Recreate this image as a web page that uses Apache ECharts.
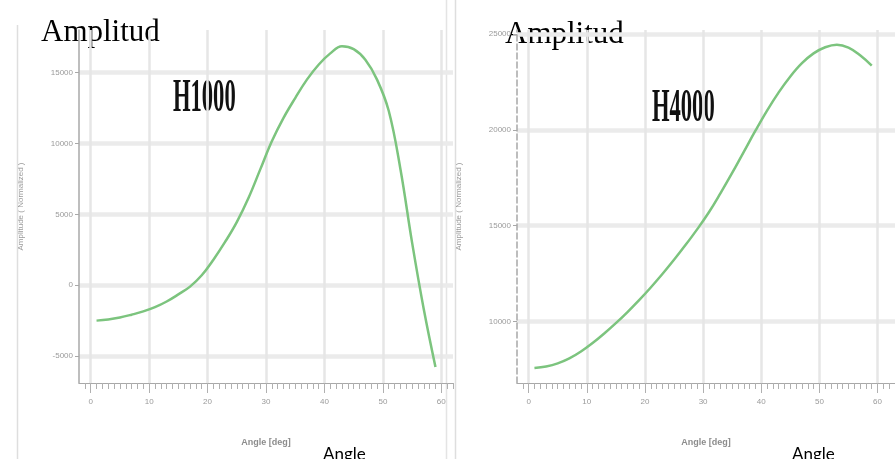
<!DOCTYPE html>
<html><head><meta charset="utf-8">
<script src="https://cdn.jsdelivr.net/npm/echarts@6/dist/echarts.min.js"></script>
<style>html,body{margin:0;padding:0;background:#fff}#c{width:895px;height:459px}</style>
</head><body><div id="c"></div>
<script>
const angles1 = [1,3,5,7,9,11,13,15,17,19,21,23,25,27,29,31,33,35,37,39,41,43,45,47,49,51,53,55,57,59];
const h1000 = [-2500,-2420,-2280,-2080,-1850,-1550,-1150,-650,-100,700,1800,3050,4450,6150,8150,10150,11800,13200,14500,15550,16350,16850,16650,15900,14500,12300,8200,3000,-1700,-5770];
const angles2 = [1,3,5,7,9,11,13,15,17,19,21,23,25,27,29,31,33,35,37,39,41,43,45,47,49,51,53,55,57,59];
const h4000 = [7580,7660,7820,8080,8440,8880,9380,9920,10500,11120,11780,12480,13220,14000,14820,15700,16700,17750,18850,19950,21000,21950,22780,23470,23980,24300,24430,24280,23880,23340];
const xLabelTicks = [0,10,20,30,40,50,60];
const yTicks1 = [-5000,0,5000,10000,15000];
const yTicks2 = [10000,15000,20000,25000];
const minorTicks = [];
for (let i = -1; i <= 63; i++) minorTicks.push(i);

const lineColor = '#7cc47e';
const axisGray = '#a8a8a8';
const labelStyle = {color:'#9a9a9a', fontSize:8, fontFamily:'Liberation Sans Narrow, Liberation Sans, sans-serif'};

function xMain(gi, max){
  return {type:'value', gridIndex:gi, min:-2, max:max, position:'bottom',
    name:'Angle [deg]', nameLocation:'middle', nameGap:55,
    nameTextStyle:{color:'#8c8c8c', fontSize:9, fontWeight:'bold', fontFamily:'Liberation Sans Narrow, sans-serif'},
    axisLine:{show:true, onZero:false, lineStyle:{color:axisGray, width:1}},
    axisTick:{show:true, customValues:minorTicks, length:6, lineStyle:{color:'#b0b0b0', width:1}},
    axisLabel:{show:true, customValues:xLabelTicks, margin:15, ...labelStyle},
    splitLine:{show:false}};
}
function xMajor(gi, max){
  return {type:'value', gridIndex:gi, min:-2, max:max, position:'bottom',
    axisLine:{show:false, onZero:false},
    axisTick:{show:true, customValues:xLabelTicks, length:10, lineStyle:{color:'#b0b0b0', width:1}},
    axisLabel:{show:false},
    splitLine:{show:true, lineStyle:{color:'#e6e6e6', width:2.5}}};
}
function yAx(gi, min, max, ticks, dashed){
  return {type:'value', gridIndex:gi, min:min, max:max,
    name:'Amplitude ( Normalized )', nameLocation:'middle', nameGap:54, nameRotate:90,
    nameTextStyle:{color:'#9a9a9a', fontSize:8, fontFamily:'Liberation Sans Narrow, sans-serif'},
    axisLine:{show:true, onZero:false, lineStyle:{color:axisGray, width:1.5, type: dashed?'dashed':'solid'}},
    axisTick:{show:true, customValues:ticks, length:4, lineStyle:{color:axisGray}},
    axisLabel:{show:true, customValues:ticks, margin:6, ...labelStyle, fontSize:8, formatter:v=>String(v)},
    splitLine:{show:true, lineStyle:{color:'#ebebeb', width:4.5}}};
}

const chart = echarts.init(document.getElementById('c'), null, {renderer:'canvas'});
chart.setOption({
  backgroundColor:'#ffffff',
  animation:false,
  grid:[
    {left:79, right:442, top:30, bottom:76},
    {left:517, right:0, top:30, bottom:76}
  ],
  xAxis:[xMain(0,62), xMajor(0,62), xMain(1,63), xMajor(1,63)],
  yAxis:[yAx(0,-6900,18000,yTicks1,false), yAx(1,6800,25200,yTicks2,true)],
  series:[
    {type:'line', xAxisIndex:0, yAxisIndex:0, data:angles1.map((a,i)=>[a,h1000[i]]),
     smooth:0.4, showSymbol:false, symbol:'none', lineStyle:{color:lineColor, width:2.5}},
    {type:'line', xAxisIndex:2, yAxisIndex:1, data:angles2.map((a,i)=>[a,h4000[i]]),
     smooth:0.4, showSymbol:false, symbol:'none', lineStyle:{color:lineColor, width:2.5}}
  ],
  graphic:[
    {type:'line', shape:{x1:17.5,y1:25,x2:17.5,y2:459}, style:{stroke:'#dedede', lineWidth:1.5}, silent:true},
    {type:'line', shape:{x1:446.5,y1:0,x2:446.5,y2:459}, style:{stroke:'#e4e4e4', lineWidth:1.5}, silent:true},
    {type:'line', shape:{x1:455.5,y1:0,x2:455.5,y2:459}, style:{stroke:'#dedede', lineWidth:1.5}, silent:true},
    {type:'text', x:41, y:17, style:{text:'Amplitud', font:'31px "Liberation Serif"', fill:'#000'}},
    {type:'text', x:505, y:19, style:{text:'Amplitud', font:'31px "Liberation Serif"', fill:'#000'}},
    {type:'text', x:173, y:75, scaleX:0.48, style:{text:'H1000', font:'bold 47px "Liberation Serif"', fill:'#111'}},
    {type:'text', x:652, y:85, scaleX:0.48, style:{text:'H4000', font:'bold 47px "Liberation Serif"', fill:'#111'}},
    {type:'text', x:323, y:446, style:{text:'Angle', font:'17px Lato', fill:'#000'}},
    {type:'text', x:792, y:446, style:{text:'Angle', font:'17px Lato', fill:'#000'}}
  ]
});
</script></body></html>
